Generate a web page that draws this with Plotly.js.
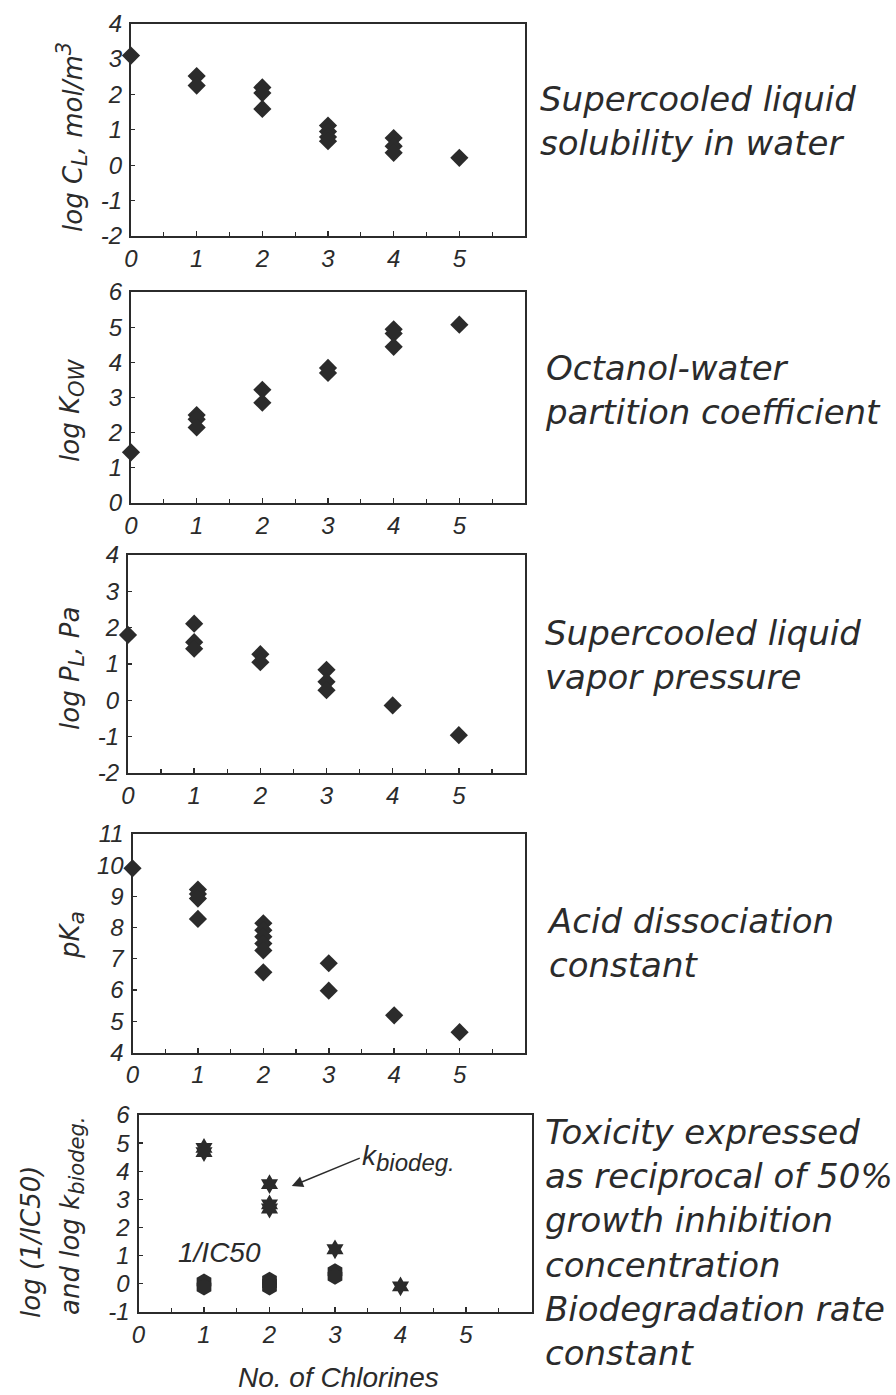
<!DOCTYPE html>
<html><head><meta charset="utf-8">
<script src="https://cdn.plot.ly/plotly-3.0.1.min.js"></script>
<style>html,body{margin:0;padding:0;background:#fff}#chart{width:896px;height:1395px}</style>
</head><body><div id="chart"></div>
<script>
// ---------- data ----------
const xTickVals = [0, 1, 2, 3, 4, 5];
const xTickText = ['0', '1', '2', '3', '4', '5'];

// Supercooled liquid solubility in water
const solubilityX = [0, 1, 1, 2, 2, 2, 3, 3, 3, 3, 4, 4, 4, 5];
const solubilityY = [3.1, 2.52, 2.25, 2.2, 2.04, 1.59, 1.12, 0.95, 0.8, 0.68, 0.77, 0.54, 0.35, 0.21];
const solubilityTicks = [-2, -1, 0, 1, 2, 3, 4];
const solubilityTickText = ['-2', '-1', '0', '1', '2', '3', '4'];

// Octanol-water partition coefficient
const kowX = [0, 1, 1, 1, 2, 2, 3, 3, 4, 4, 4, 5];
const kowY = [1.44, 2.5, 2.38, 2.15, 3.22, 2.85, 3.84, 3.7, 4.94, 4.82, 4.44, 5.07];
const kowTicks = [0, 1, 2, 3, 4, 5, 6];
const kowTickText = ['0', '1', '2', '3', '4', '5', '6'];

// Supercooled liquid vapor pressure
const vpX = [0, 1, 1, 1, 2, 2, 3, 3, 3, 4, 5];
const vpY = [1.8, 2.11, 1.6, 1.42, 1.27, 1.05, 0.84, 0.51, 0.28, -0.14, -0.96];
const vpTicks = [-2, -1, 0, 1, 2, 3, 4];
const vpTickText = ['-2', '-1', '0', '1', '2', '3', '4'];

// Acid dissociation constant
const pkaX = [0, 1, 1, 1, 1, 2, 2, 2, 2, 2, 2, 3, 3, 4, 5];
const pkaY = [9.9, 9.22, 9.08, 8.93, 8.28, 8.14, 7.92, 7.71, 7.49, 7.27, 6.57, 6.86, 5.98, 5.19, 4.65];
const pkaTicks = [4, 5, 6, 7, 8, 9, 10, 11];
const pkaTickText = ['4', '5', '6', '7', '8', '9', '10', '11'];

// Toxicity (1/IC50) and biodegradation rate constant
const kbioX = [1, 1, 2, 2, 2, 3, 4];
const kbioY = [4.83, 4.68, 3.54, 2.82, 2.67, 1.22, -0.1];
const ic50X = [1, 1, 2, 2, 2, 3, 3];
const ic50Y = [0.06, -0.12, 0.12, 0.0, -0.12, 0.42, 0.26];
const toxTicks = [-1, 0, 1, 2, 3, 4, 5, 6];
const toxTickText = ['-1', '0', '1', '2', '3', '4', '5', '6'];

const yTitles = [
  'log C<sub><span style="font-size:21px">L</span></sub>, mol/m<sup><span style="font-size:21px">3</span></sup>',
  'log K<sub><span style="font-size:21px">OW</span></sub>',
  'log P<sub><span style="font-size:21px">L</span></sub>, Pa',
  'pK<sub><span style="font-size:22px">a</span></sub>',
  'log (1/IC50)',
  'and log k<sub><span style="font-size:21px">biodeg.</span></sub>'
];
const sideLabels = [
  'Supercooled liquid<br>solubility in water',
  'Octanol-water<br>partition coefficient',
  'Supercooled liquid<br>vapor pressure',
  'Acid dissociation<br>constant',
  'Toxicity expressed<br>as reciprocal of 50%<br>growth inhibition<br>concentration<br>Biodegradation rate<br>constant'
];
const xTitle = 'No. of Chlorines';
const ic50Label = '1/IC50';
const kbioLabel = 'k<sub><span style="font-size:24px">biodeg.</span></sub>';

// ---------- layout helpers ----------
const W = 896, H = 1395;
const px = v => v / W;
const py = v => 1 - v / H;

const INK = '#2b2b2b';
const tickFont = {family: 'Liberation Sans, Arial, sans-serif', size: 24, color: INK, style: 'italic'};
const wideFont = (s) => ({family: 'DejaVu Sans, sans-serif', size: s, color: INK, style: 'italic'});

function xAxis(anchor, left, right) {
  return {
    anchor: anchor, domain: [px(left), px(right)], range: [0, 6],
    tickvals: xTickVals, ticktext: xTickText, tickfont: tickFont,
    ticks: 'inside', ticklen: 5, tickwidth: 1.5, tickcolor: INK,
    minor: {dtick: 0.5, ticks: 'inside', ticklen: 4, tickwidth: 1.2, tickcolor: INK},
    showline: true, linecolor: INK, linewidth: 2, mirror: true,
    showgrid: false, zeroline: false, fixedrange: true, ticklabelstandoff: 0
  };
}
function yAxis(anchor, top, bottom, range, vals, text) {
  return {
    anchor: anchor, domain: [py(bottom), py(top)], range: range,
    tickvals: vals, ticktext: text, tickfont: tickFont,
    ticks: 'inside', ticklen: 4, tickwidth: 1.2, tickcolor: INK,
    showline: true, linecolor: INK, linewidth: 2, mirror: true,
    showgrid: false, zeroline: false, fixedrange: true, ticklabelstandoff: 2
  };
}
function pts(x, y, xa, ya, symbol, size) {
  return {
    type: 'scatter', mode: 'markers', x: x, y: y, xaxis: xa, yaxis: ya,
    cliponaxis: false, hoverinfo: 'skip',
    marker: {symbol: symbol, size: size, color: INK, line: {width: 0}}
  };
}

const traces = [
  pts(solubilityX, solubilityY, 'x', 'y', 'diamond', 14),
  pts(kowX, kowY, 'x2', 'y2', 'diamond', 14),
  pts(vpX, vpY, 'x3', 'y3', 'diamond', 14),
  pts(pkaX, pkaY, 'x4', 'y4', 'diamond', 14),
  pts(ic50X, ic50Y, 'x5', 'y5', 'hexagon', 17),
  pts(kbioX, kbioY, 'x5', 'y5', 'hexagram', 15)
];

const titleAnn = (text, x, y) => ({
  text: text, xref: 'paper', yref: 'paper', x: px(x), y: py(y),
  xanchor: 'center', yanchor: 'middle', textangle: -90, showarrow: false,
  font: wideFont(26)
});
const sideAnn = (text, x, y) => ({
  text: text, xref: 'paper', yref: 'paper', x: px(x), y: py(y),
  xanchor: 'left', yanchor: 'middle', align: 'left', showarrow: false,
  font: wideFont(34)
});

const annotations = [
  titleAnn(yTitles[0], 72, 137),
  titleAnn(yTitles[1], 72, 411),
  titleAnn(yTitles[2], 72, 669),
  titleAnn(yTitles[3], 72, 935),
  titleAnn(yTitles[4], 31, 1242),
  titleAnn(yTitles[5], 72, 1216),
  sideAnn(sideLabels[0], 538, 121),
  sideAnn(sideLabels[1], 543, 390),
  sideAnn(sideLabels[2], 543, 655),
  sideAnn(sideLabels[3], 545, 943),
  sideAnn(sideLabels[4], 543, 1242),
  {text: xTitle, xref: 'paper', yref: 'paper', x: px(338), y: py(1377),
   xanchor: 'center', yanchor: 'middle', showarrow: false,
   font: {family: 'Liberation Sans, Arial, sans-serif', size: 28, color: INK, style: 'italic'}},
  {text: ic50Label, xref: 'x5', yref: 'y5', x: 1.24, y: 1.12,
   xanchor: 'center', yanchor: 'middle', showarrow: false,
   font: {family: 'Liberation Sans, Arial, sans-serif', size: 28, color: INK, style: 'italic'}},
  {text: kbioLabel, xref: 'x5', yref: 'y5', x: 2.34, y: 3.47,
   ax: 68, ay: -28, xanchor: 'left', yanchor: 'middle',
   showarrow: true, arrowhead: 2, arrowsize: 1.5, arrowwidth: 1.5, arrowcolor: INK,
   font: {family: 'Liberation Sans, Arial, sans-serif', size: 28, color: INK, style: 'italic'}}
];

const layout = {
  width: W, height: H, margin: {l: 0, r: 0, t: 0, b: 0},
  paper_bgcolor: '#fff', plot_bgcolor: '#fff', showlegend: false,
  xaxis: xAxis('y', 131, 525),
  yaxis: yAxis('x', 23.7, 236, [-2, 4], solubilityTicks, solubilityTickText),
  xaxis2: xAxis('y2', 131, 525),
  yaxis2: yAxis('x2', 292, 503, [0, 6], kowTicks, kowTickText),
  xaxis3: xAxis('y3', 128, 525),
  yaxis3: yAxis('x3', 555, 773, [-2, 4], vpTicks, vpTickText),
  xaxis4: xAxis('y4', 132.5, 525),
  yaxis4: yAxis('x4', 834, 1052.5, [4, 11], pkaTicks, pkaTickText),
  xaxis5: xAxis('y5', 138.5, 531.5),
  yaxis5: yAxis('x5', 1115, 1311.7, [-1, 6], toxTicks, toxTickText),
  annotations: annotations
};

Plotly.newPlot('chart', traces, layout, {staticPlot: true, displayModeBar: false});
</script>
</body></html>
